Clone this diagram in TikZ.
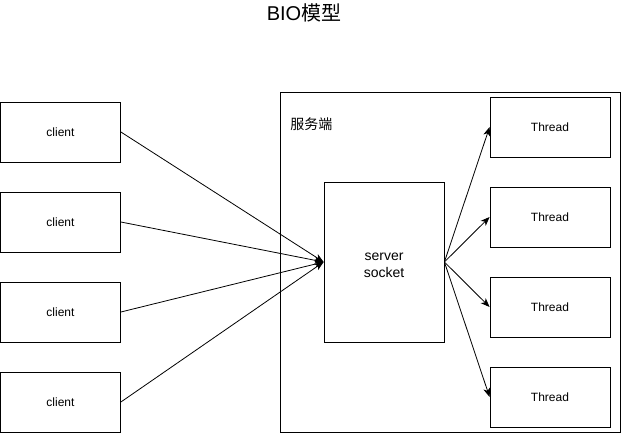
\documentclass[tikz,border=0pt]{standalone}
\usepackage{fontspec}
\setmainfont{Liberation Sans}
\newfontfamily\cjk{Noto Sans CJK SC}
\usepackage{tikz}
\usetikzlibrary{arrows.meta}

\begin{document}
\begin{tikzpicture}[x=1pt,y=-1pt,
    box/.style={draw,shape=rectangle,inner sep=0pt,minimum width=120pt,minimum height=60pt,font=\fontsize{12}{14}\selectfont}]
\useasboundingbox (0,0) rectangle (621,433);
\begin{scope}[>={Stealth[length=9pt,width=7pt,inset=2.5pt]},line width=0.8pt]

    \node (title) at (304,13) {\fontsize{20}{24}\selectfont BIO\cjk 模型};

    \node[draw,shape=rectangle,minimum width=340pt,minimum height=340pt] (srv) at (450,262) {};
    \node[anchor=west,inner sep=0pt] (srvlabel) at (290,124) {\cjk\fontsize{14}{16}\selectfont 服务端};

    \node[box] (c1) at (60.5,132) {client};
    \node[box] (c2) at (60.5,222) {client};
    \node[box] (c3) at (60.5,312) {client};
    \node[box] (c4) at (60.5,402) {client};

    \node[box,minimum height=160pt,align=center,font=\fontsize{14}{17}\selectfont] (sock) at (384,262) {};
    \node[align=center,font=\fontsize{14}{17}\selectfont] (socklabel) at (384,265) {server\\socket};

    \node[box] (t1) at (550,127) {Thread};
    \node[box] (t2) at (550,217) {Thread};
    \node[box] (t3) at (550,307) {Thread};
    \node[box] (t4) at (550,397) {Thread};

    \draw[->] (c1.east) -- (sock.west);
    \draw[->] (c2.east) -- (sock.west);
    \draw[->] (c3.east) -- (sock.west);
    \draw[->] (c4.east) -- (sock.west);

    \draw[->] (sock.east) -- (t1.west);
    \draw[->] (sock.east) -- (t2.west);
    \draw[->] (sock.east) -- (t3.west);
    \draw[->] (sock.east) -- (t4.west);

\end{scope}
\end{tikzpicture}
\end{document}
